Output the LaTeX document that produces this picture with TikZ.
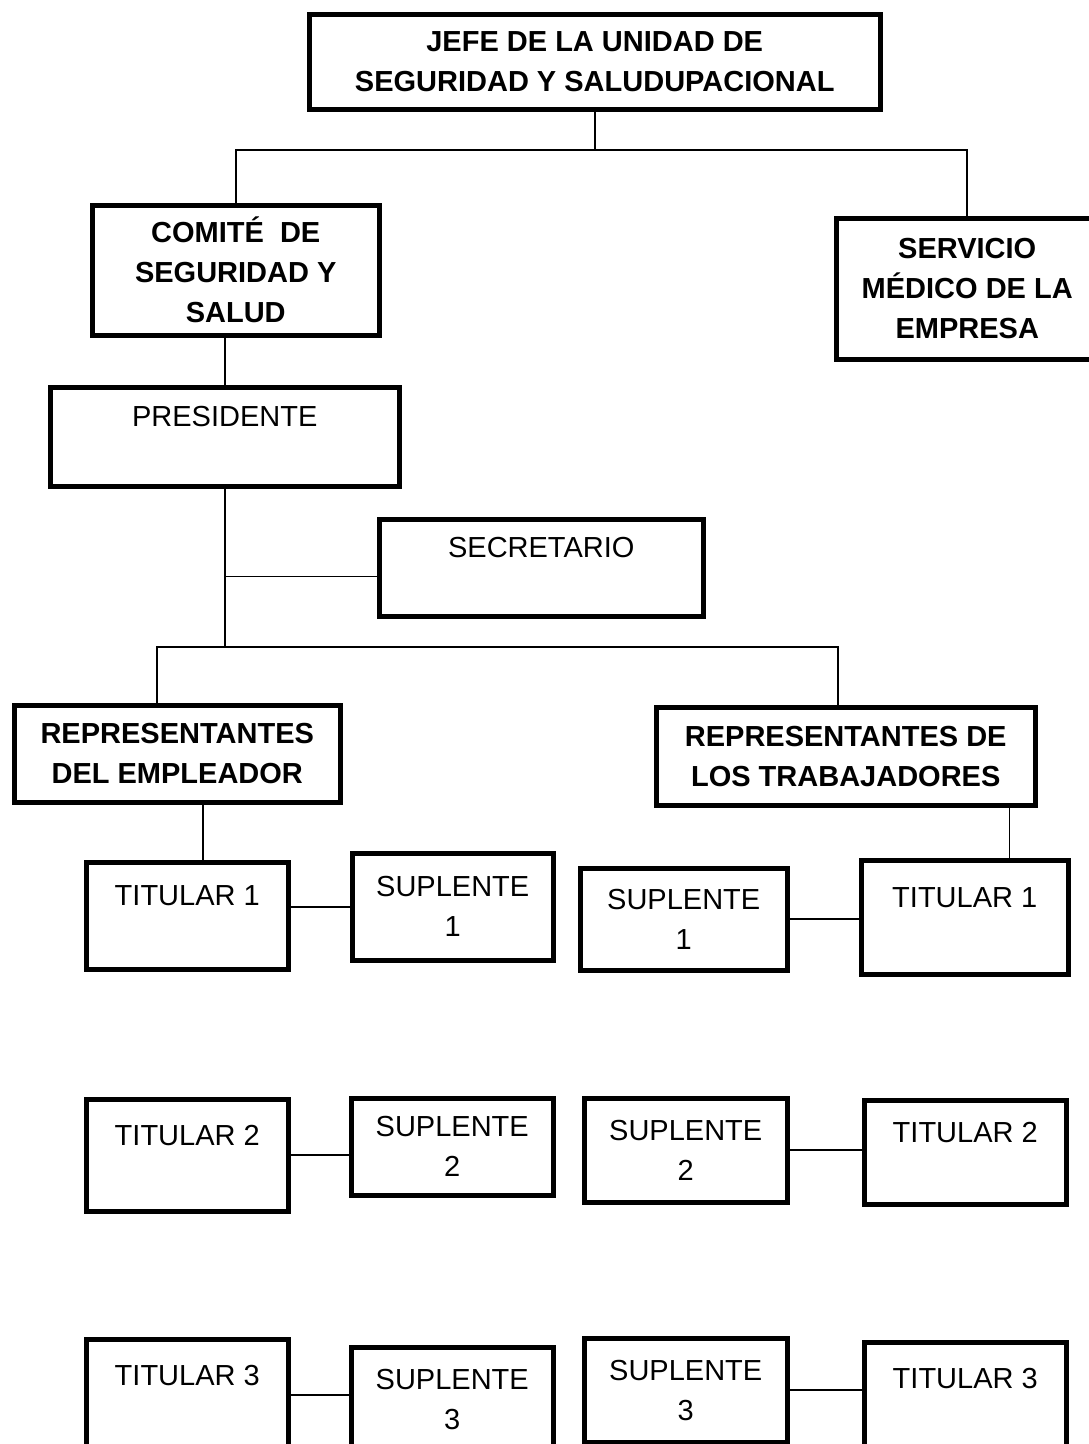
\documentclass[tikz,border=0pt]{standalone}
\usepackage{fontspec}
\setmainfont{Liberation Sans}
\begin{document}
\begin{tikzpicture}[x=1pt,y=-1pt,
    box/.style={draw, line width=4.5pt, anchor=north west, align=center, inner sep=0pt,
      font=\fontsize{29}{40}\selectfont},
    hbox/.style={box, font=\fontsize{29}{40}\selectfont\bfseries},
    link/.style={line width=1.6pt}]
  \useasboundingbox (0,0) rectangle (1089,1444);
  \node[hbox, minimum width=571pt, minimum height=95pt] (jefe) at (307,12) {JEFE DE LA UNIDAD DE\\SEGURIDAD Y SALUDUPACIONAL};
  \node[hbox, minimum width=287pt, minimum height=130pt] (comite) at (90,203) {COMITÉ\ \ DE\\SEGURIDAD Y\\SALUD};
  \node[hbox, minimum width=262pt, minimum height=141pt] (servicio) at (834,216) {SERVICIO\\MÉDICO DE LA\\EMPRESA};
  \node[box, minimum width=349pt, minimum height=99pt] (pres) at (48,385) {PRESIDENTE\\\mbox{}};
  \node[box, minimum width=324pt, minimum height=97pt] (secre) at (377,517) {SECRETARIO\\\mbox{}};
  \node[hbox, minimum width=326pt, minimum height=97pt] (remp) at (12,703) {REPRESENTANTES\\DEL EMPLEADOR};
  \node[hbox, minimum width=379pt, minimum height=98pt] (rtrab) at (654,705) {REPRESENTANTES DE\\LOS TRABAJADORES};
  % fila 1
  \node[box, minimum width=202pt, minimum height=107pt] (tit1l) at (84,860) {TITULAR 1\\\mbox{}};
  \node[box, minimum width=201pt, minimum height=107pt] (sup1l) at (350,851) {SUPLENTE\\1};
  \node[box, minimum width=207pt, minimum height=102pt] (sup1r) at (578,866) {SUPLENTE\\1};
  \node[box, minimum width=207pt, minimum height=114pt] (tit1r) at (859,858) {TITULAR 1\\\mbox{}};
  % fila 2
  \node[box, minimum width=202pt, minimum height=112pt] (tit2l) at (84,1097) {TITULAR 2\\\mbox{}};
  \node[box, minimum width=202pt, minimum height=97pt] (sup2l) at (349,1096) {SUPLENTE\\2};
  \node[box, minimum width=203pt, minimum height=104pt] (sup2r) at (582,1096) {SUPLENTE\\2};
  \node[box, minimum width=202pt, minimum height=104pt] (tit2r) at (862,1098) {TITULAR 2\\\mbox{}};
  % fila 3
  \node[box, minimum width=202pt, minimum height=112pt] (tit3l) at (84,1337) {TITULAR 3\\\mbox{}};
  \node[box, minimum width=202pt, minimum height=104pt] (sup3l) at (349,1345) {SUPLENTE\\3};
  \node[box, minimum width=203pt, minimum height=104pt] (sup3r) at (582,1336) {SUPLENTE\\3};
  \node[box, minimum width=202pt, minimum height=112pt] (tit3r) at (862,1340) {TITULAR 3\\\mbox{}};
  % lineas
  \coordinate (bus1) at (594,150);
  \coordinate (busL) at (157,647);
  \coordinate (busR) at (838,647);
  \draw[link] (jefe.south) -- (jefe.south |- bus1);
  \draw[link] (comite.north) |- (servicio.north |- bus1) -- (servicio.north);
  \draw[link] (pres.north) -- (pres.north |- comite.south);
  \draw[link] (pres.south) -- (pres.south |- busL);
  \draw[link] (secre.183) -- (secre.183 -| pres.south);
  \draw[link] (remp.north -| busL) |- (busR) -- (busR |- rtrab.north);
  \draw[link] (tit1l.74) -- (tit1l.74 |- remp.south);
  \draw[link] (tit1r.53) -- (tit1r.53 |- rtrab.south);
  \draw[link] (sup1l.west) -- (sup1l.west -| tit1l.east);
  \draw[link] (sup1r.east) -- (sup1r.east -| tit1r.west);
  \draw[link] (tit2l.east) -- (tit2l.east -| sup2l.west);
  \draw[link] (sup2r.east) -- (sup2r.east -| tit2r.west);
  \draw[link] (tit3l.east) -- (tit3l.east -| sup3l.west);
  \draw[link] (sup3r.east) -- (sup3r.east -| tit3r.west);
\end{tikzpicture}
\end{document}
